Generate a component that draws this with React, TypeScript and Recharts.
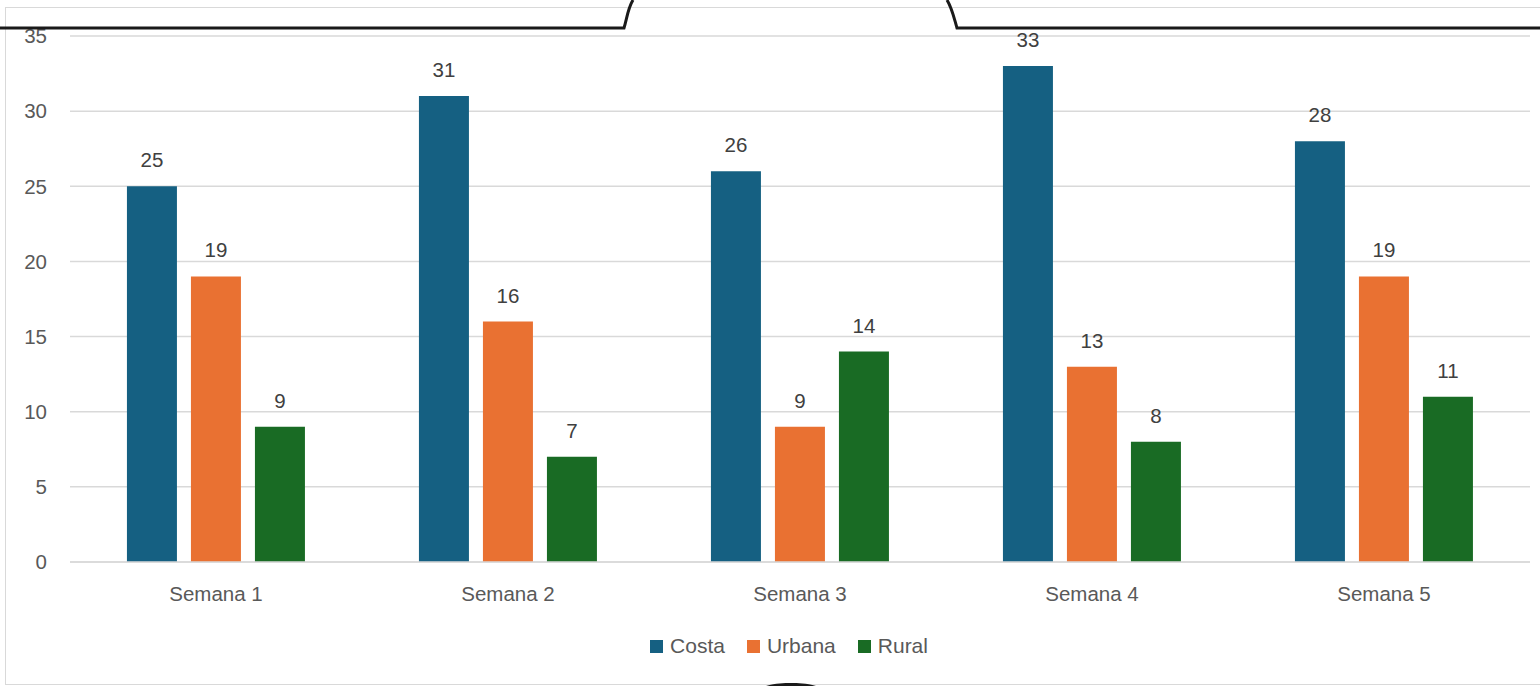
import { BarChart, Bar, XAxis, YAxis, CartesianGrid, Legend, LabelList } from "recharts";

const weeks = ["Semana 1", "Semana 2", "Semana 3", "Semana 4", "Semana 5"];
const costa = [25, 31, 26, 33, 28];
const urbana = [19, 16, 9, 13, 19];
const rural = [9, 7, 14, 8, 11];
const yTicks = [0, 5, 10, 15, 20, 25, 30, 35];

const series = [
  { key: "costa", name: "Costa", color: "#156082" },
  { key: "urbana", name: "Urbana", color: "#E97132" },
  { key: "rural", name: "Rural", color: "#196B24" },
];

const data = weeks.map((week, i) => ({
  week,
  costa: costa[i],
  urbana: urbana[i],
  rural: rural[i],
}));

const FONT = "'Liberation Sans', Arial, sans-serif";

function LegendRow() {
  return (
    <div style={{ display: "flex", justifyContent: "center", gap: 22, fontFamily: FONT, fontSize: 21, color: "#595959", paddingLeft: 48 }}>
      {series.map((s) => (
        <div key={s.key} style={{ display: "flex", alignItems: "center", gap: 7 }}>
          <span style={{ width: 13, height: 13, background: s.color, display: "inline-block" }} />
          <span>{s.name}</span>
        </div>
      ))}
    </div>
  );
}

export default function App() {
  return (
    <div style={{ position: "absolute", left: 0, top: 0, width: 1540, height: 686, background: "#fff", overflow: "hidden" }}>
      <div style={{ position: "absolute", left: 5, top: 7, width: 1560, height: 676, border: "1px solid #D9D9D9" }} />
      <div style={{ position: "absolute", left: 0, top: 0 }}>
        <BarChart
          width={1540}
          height={686}
          data={data}
          margin={{ top: 36, right: 10, left: 0, bottom: 70 }}
          barCategoryGap="19.5%"
          barGap={14}
        >
          <CartesianGrid vertical={false} stroke="#D9D9D9" strokeWidth={1.5} />
          <XAxis
            dataKey="week"
            tickLine={false}
            axisLine={{ stroke: "#D9D9D9", strokeWidth: 1.5 }}
            tickSize={0}
            tickMargin={24}
            height={30}
            tick={{ fill: "#595959", fontSize: 20.5, fontFamily: FONT }}
          />
          <YAxis
            width={70}
            domain={[0, 35]}
            ticks={yTicks}
            tickLine={false}
            axisLine={false}
            tickSize={0}
            tickMargin={23}
            tick={{ fill: "#595959", fontSize: 20.5, fontFamily: FONT }}
          />
          <Legend verticalAlign="bottom" content={() => <LegendRow />} wrapperStyle={{ top: 634, bottom: "auto" }} />
          {series.map((s) => (
            <Bar key={s.key} dataKey={s.key} name={s.name} fill={s.color} isAnimationActive={false}>
              <LabelList dataKey={s.key} position="top" offset={19} fill="#404040" fontSize={20.5} fontFamily={FONT} />
            </Bar>
          ))}
        </BarChart>
      </div>
      <svg width={1540} height={686} style={{ position: "absolute", left: 0, top: 0, pointerEvents: "none" }}>
        <path d="M0 28 L624 28 C627 18 628 8 633 0" fill="none" stroke="#1a1a1a" strokeWidth={3} />
        <path d="M947 0 C952 8 954 18 957 28 L1540 28" fill="none" stroke="#1a1a1a" strokeWidth={3} />
        <path d="M766 686 C776 683 784 683 791 683 C798 683 806 683 816 686 Z" fill="#1a1a1a" />
      </svg>
    </div>
  );
}
